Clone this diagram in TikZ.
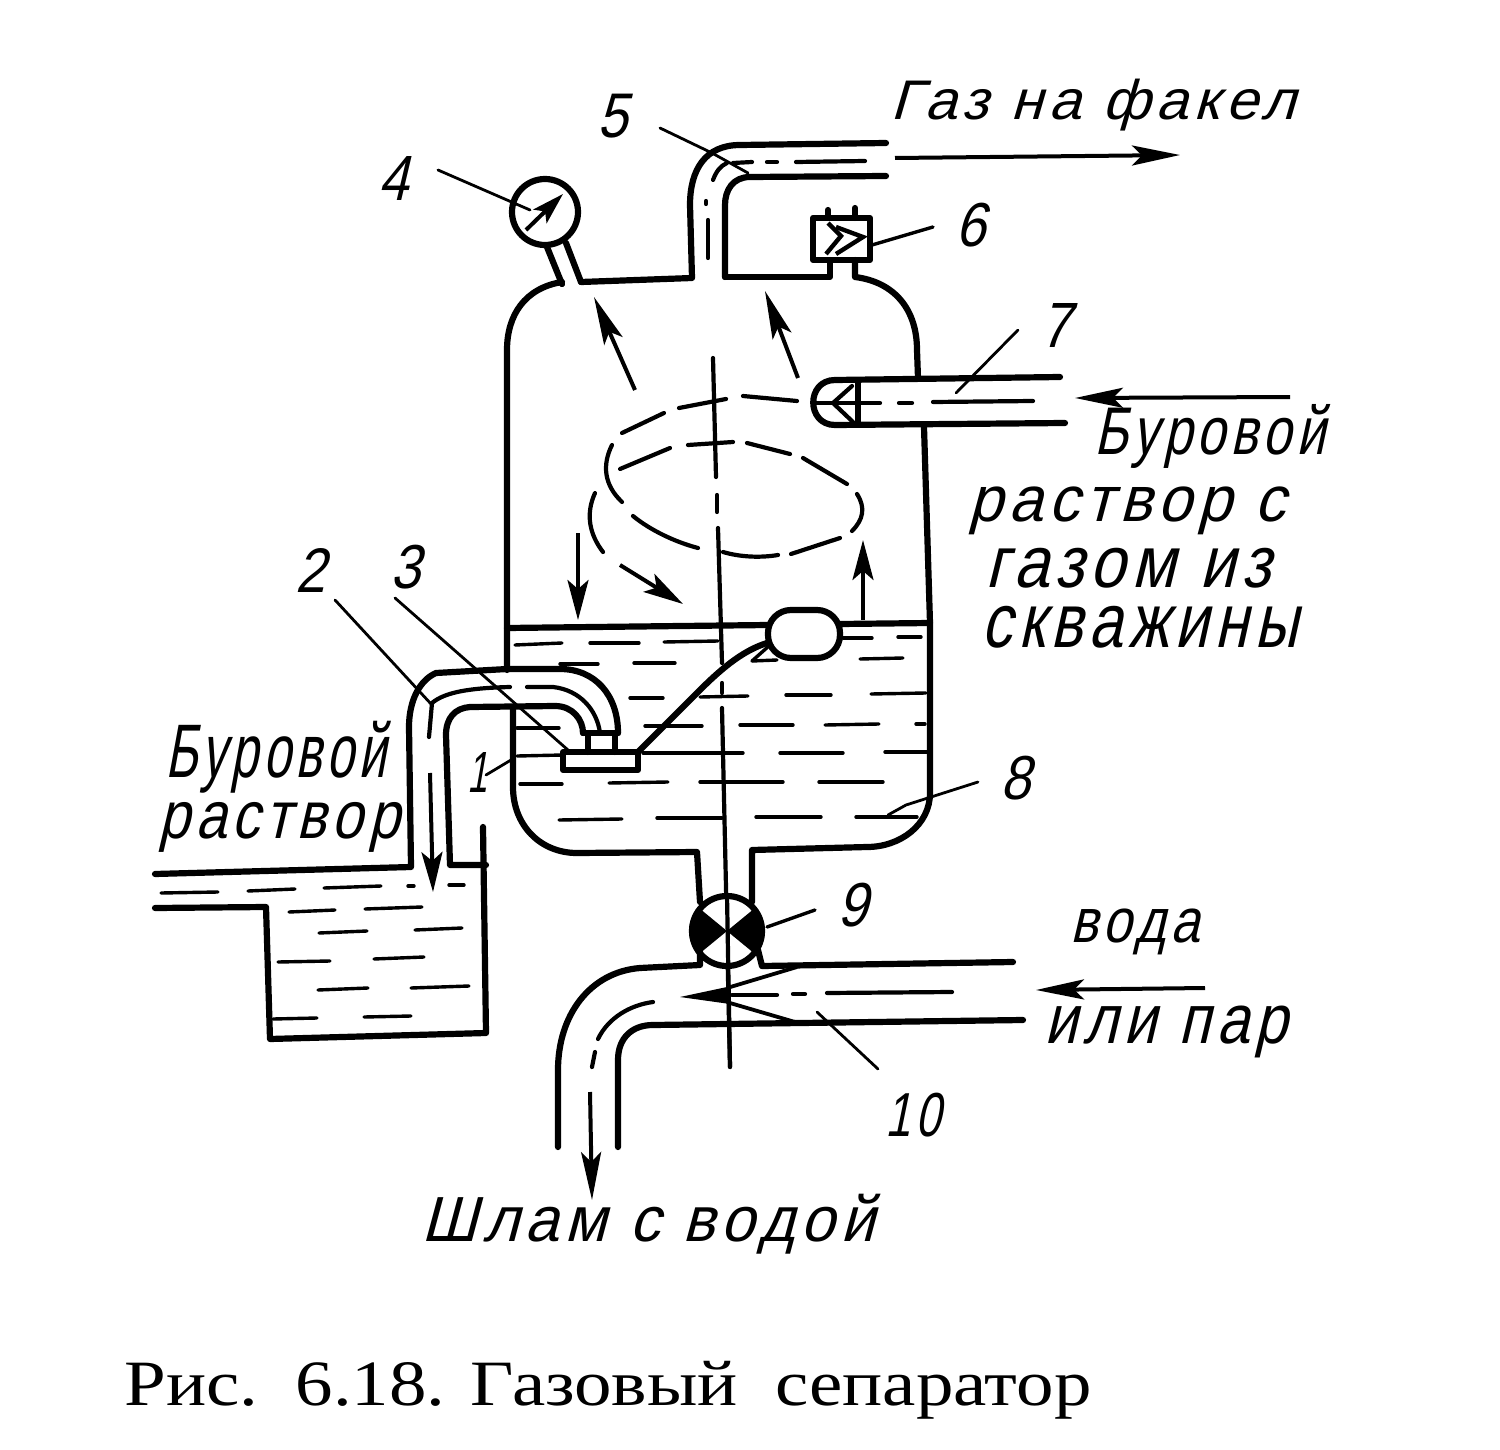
\documentclass[tikz,border=0pt]{standalone}
\usepackage{fontspec}
\usepackage{graphicx}
\usetikzlibrary{arrows.meta}
\setmainfont{Liberation Serif}
\newfontfamily\handfont[LetterSpace=10,FakeSlant=0.28]{Liberation Sans}
\newcommand{\handlab}[3]{\resizebox*{#1pt}{#2pt}{\handfont #3}}
\tikzset{
  wall/.style={line width=6.2pt,line join=round,line cap=round},
  midl/.style={line width=4.2pt,line cap=round},
  liq/.style={line width=3.4pt,line cap=round},
  leader/.style={line width=2.8pt,line cap=round},
  flow/.style={line width=4pt,-{Stealth[length=48pt,width=20pt,inset=10pt]}},
  flowsm/.style={line width=4pt,-{Stealth[length=40pt,width=21pt,inset=9pt]}},
  lab/.style={inner sep=0pt,outer sep=0pt}
}
\begin{document}
\begin{tikzpicture}[x=1pt,y=-1pt]
\useasboundingbox (0,0) rectangle (1500,1450);
\fill[white] (0,0) rectangle (1500,1450);

% liquid in the vessel
\foreach \a/\b/\c/\d in {515/645/562/643,590/643/639/643,664/642/718/641,843/638/872/638,898/637/921/637,
 560/664/598/664,634/663/675/663,860/659/903/658,
 630/698/663/698,700/697/748/696,786/695/831/695,871/694/926/693,
 517/728/559/728,645/726/702/726,740/725/793/725,825/725/879/724,916/724/925/724,
 517/756/563/755,643/753/743/753,780/753/843/753,885/752/927/752,
 520/784/562/784,609/783/668/782,700/782/783/782,819/782/883/782,
 559/820/622/819,657/818/722/818,756/817/821/817,856/817/917/817,
 161/893/218/892,248/891/295/889,324/888/381/886,408/886/414/886,449/885/464/885,
 289/912/335/910,365/909/422/907,319/933/367/931,415/930/462/928,
 278/962/330/961,374/959/424/957,318/990/368/988,411/988/469/986,273/1019/317/1018,364/1017/411/1016}
 {\draw[liq] (\a,\b) -- (\c,\d);}

% vessel upper part
\draw[wall] (562,282) .. controls (525,288) and (507,315) .. (507,350) -- (507,670);
\draw[wall] (562,284) -- (547,247);
\draw[wall] (581,282) -- (566,243);
\draw[wall] (581,282) -- (692,278) -- (690,205) .. controls (690,170) and (705,145) .. (740,145) -- (886,143);
\draw[wall] (725,277) -- (725,205) .. controls (725,190) and (733,177) .. (750,177) -- (886,176);
\draw[wall] (725,277) -- (830,277) -- (830,260);
\draw[wall] (855,260) -- (855,277) .. controls (895,282) and (917,310) .. (917,350) -- (918,378);
\draw[wall] (924,427) -- (930,623) -- (930,793) .. controls (930,825) and (900,847) .. (867,847) -- (752,850) -- (752,902);
\draw[wall] (513,707) -- (513,787) .. controls (513,825) and (540,853) .. (577,853) -- (697,852) -- (700,902);
\draw[wall] (507,628) -- (768,625);
\draw[wall] (840,624) -- (930,623);

% pressure gauge 4
\draw[wall,fill=white] (545,212) circle[radius=33];
\draw[line width=4pt,-{Stealth[length=32pt,width=19pt,inset=7pt]}] (526,230) -- (563,194);
\draw[leader] (438,170) -- (530,210);

% outlet centre line
\draw[midl] (708,258) -- (708,220);
\draw[midl] (706,201) -- (706,204);
\draw[midl] (713,180) .. controls (716,172) and (720,166) .. (727,163);
\draw[midl] (733,163) -- (752,162);
\draw[midl] (767,162) -- (777,162);
\draw[midl] (796,162) -- (865,161);
\draw[leader] (660,128) -- (712,153) -- (748,173);

% safety valve 6
\draw[wall] (813,218) rectangle (870,260);
\draw[wall] (828,210) -- (828,218);
\draw[wall] (855,208) -- (855,218);
\draw[line width=4.4pt,line join=miter] (828,223) -- (841,236) -- (826,254);
\draw[line width=4.4pt,line join=miter] (836,227) -- (863,237) -- (836,254);
\draw[leader,line width=3.4pt] (872,245) -- (933,227);

% inlet pipe 7
\draw[wall] (1060,377) -- (835,380) .. controls (806,380) and (806,425) .. (835,425) -- (1065,423);
\draw[wall] (858,381) -- (858,424);
\draw[midl] (852,386) -- (833,403) -- (853,422);
\draw[midl] (814,403) -- (880,403);
\draw[midl] (899,403) -- (912,403);
\draw[midl] (933,402) -- (1033,401);
\draw[leader] (1018,330) -- (956,393);

% flow inside vessel
\draw[flow] (635,390) -- (594,297);
\draw[flow] (798,378) -- (765,291);
\draw[flowsm] (578,533) -- (578,620);
\draw[flowsm] (620,565) -- (683,604);
\draw[flowsm] (863,620) -- (863,540);

% swirl
\draw[midl] (797,401) -- (743,396);
\draw[midl] (726,399) -- (679,408);
\draw[midl] (664,413) -- (622,433);
\draw[midl] (612,445) .. controls (602,465) and (604,485) .. (622,502);
\draw[midl] (595,493) .. controls (585,515) and (590,535) .. (603,552);
\draw[midl] (620,469) -- (670,448);
\draw[midl] (688,445) -- (733,442);
\draw[midl] (747,443) -- (790,454);
\draw[midl] (803,458) -- (847,484);
\draw[midl] (857,494) .. controls (866,508) and (863,520) .. (852,531);
\draw[midl] (840,538) -- (791,554);
\draw[midl] (778,555) .. controls (760,558) and (740,557) .. (723,552);
\draw[midl] (698,548) .. controls (675,542) and (650,530) .. (633,516);

% central axis
\draw[midl] (713,358) -- (716,477);
\draw[midl] (717,495) -- (717,512);
\draw[midl] (718,528) -- (722,663);
\draw[midl] (722,683) -- (722,693);
\draw[midl] (722,708) -- (730,1067);

% float and lever
\draw[wall,fill=white,rounded corners=23pt] (768,610) rectangle (840,658);
\draw[wall] (767,643) .. controls (745,650) and (725,665) .. (700,690) -- (637,753);
\draw[liq] (752,661) -- (777,660);
\draw[liq] (752,661) -- (770,645);

% valve 3
\draw[wall,fill=white] (563,752) rectangle (638,770);
\draw[wall] (588,735) -- (588,752);
\draw[wall] (615,733) -- (615,752);
\draw[wall] (583,733) -- (618,733);

% pipe 2
\draw[wall] (618,733) .. controls (618,695) and (595,669) .. (560,669) -- (507,669) -- (436,673) .. controls (420,680) and (409,700) .. (409,727) -- (411,867) -- (155,874);
\draw[wall] (583,733) .. controls (583,720) and (573,706) .. (555,706) -- (470,707) .. controls (455,708) and (446,718) .. (446,735) -- (450,865) -- (486,865);
\draw[midl] (527,687) -- (553,687) .. controls (580,690) and (597,710) .. (600,733);
\draw[midl] (432,703) .. controls (445,692) and (470,688) .. (510,687);
\draw[midl] (432,703) -- (429,737);
\draw[flowsm] (430,773) -- (433,892);
\draw[leader] (335,600) -- (432,705);
\draw[leader] (395,598) -- (568,750);
\draw[leader] (486,775) -- (511,760);

% pit
\draw[wall] (483,827) -- (486,1033) -- (270,1039) -- (266,907) -- (155,908);

% valve 9
\draw[wall,fill=white] (727,931) circle[radius=35];
\fill (727,931) -- (699,908) .. controls (686,918) and (686,944) .. (699,954) -- cycle;
\fill (727,931) -- (755,908) .. controls (768,918) and (768,944) .. (755,954) -- cycle;
\draw[midl] (727,895) -- (730,1067);
\draw[leader,line width=3.4pt] (767,927) -- (815,910);

% lower pipe
\draw[wall] (700,952) -- (700,965) -- (640,968) .. controls (590,972) and (558,1015) .. (558,1070) -- (558,1147);
\draw[wall] (618,1147) -- (618,1060) .. controls (618,1038) and (632,1025) .. (653,1025) -- (1023,1020);
\draw[wall] (758,950) -- (762,966) -- (1013,962);
\fill (680,997) -- (727,987) -- (730,1004) -- cycle;
\draw[line width=3.8pt] (727,988) -- (797,967);
\draw[line width=3.8pt] (730,1003) -- (795,1022);
\draw[midl] (732,995) -- (777,995);
\draw[midl] (793,994) -- (805,994);
\draw[midl] (827,993) -- (952,992);
\draw[midl] (653,1002) .. controls (630,1005) and (608,1018) .. (598,1039);
\draw[midl] (595,1052) -- (592,1067);
\draw[flow] (590,1092) -- (592,1200);
\draw[leader] (817,1012) -- (878,1069);
\draw[leader] (888,815) -- (906,805) -- (978,782);

% outer arrows
\draw[flow] (895,158) -- (1180,155);
\draw[flow] (1290,397) -- (1075,398);
\draw[flow] (1205,988) -- (1036,990);

% labels
\node[lab] (t1) at (1093,105) {\handlab{405}{52}{Газ на факел}};
\node[lab] (n4) at (393,178) {\handlab{30}{44}{4}};
\node[lab] (n5) at (612,116) {\handlab{30}{44}{5}};
\node[lab] (n6) at (970,225) {\handlab{30}{44}{6}};
\node[lab] (n7) at (1055,325) {\handlab{30}{44}{7}};
\node[lab] (n2) at (310,570) {\handlab{30}{44}{2}};
\node[lab] (n3) at (405,567) {\handlab{30}{44}{3}};
\node[lab] (n1) at (477,772) {\handlab{20}{40}{1}};
\node[lab] (n8) at (1015,778) {\handlab{30}{44}{8}};
\node[lab] (n9) at (852,905) {\handlab{30}{44}{9}};
\node[lab] (n10) at (913,1115) {\handlab{55}{44}{10}};
\node[lab] (t2a) at (1210,436) {\handlab{230}{64}{Буровой}};
\node[lab] (t2b) at (1127,511) {\handlab{317}{48}{раствор с}};
\node[lab] (t2c) at (1128,568) {\handlab{285}{40}{газом из}};
\node[lab] (t2d) at (1140,627) {\handlab{316}{42}{скважины}};
\node[lab] (t3a) at (276,757) {\handlab{221}{72}{Буровой}};
\node[lab] (t3b) at (279,827) {\handlab{241}{50}{раствор}};
\node[lab] (t4a) at (1135,932) {\handlab{130}{46}{вода}};
\node[lab] (t4b) at (1166,1032) {\handlab{243}{52}{или пар}};
\node[lab] (t5) at (648,1224) {\handlab{453}{60}{Шлам с водой}};
\node[lab] (cap) at (608,1390) {\resizebox*{967pt}{58pt}{Рис.\ \ 6.18. Газовый\ \ сепаратор}};
\end{tikzpicture}
\end{document}
